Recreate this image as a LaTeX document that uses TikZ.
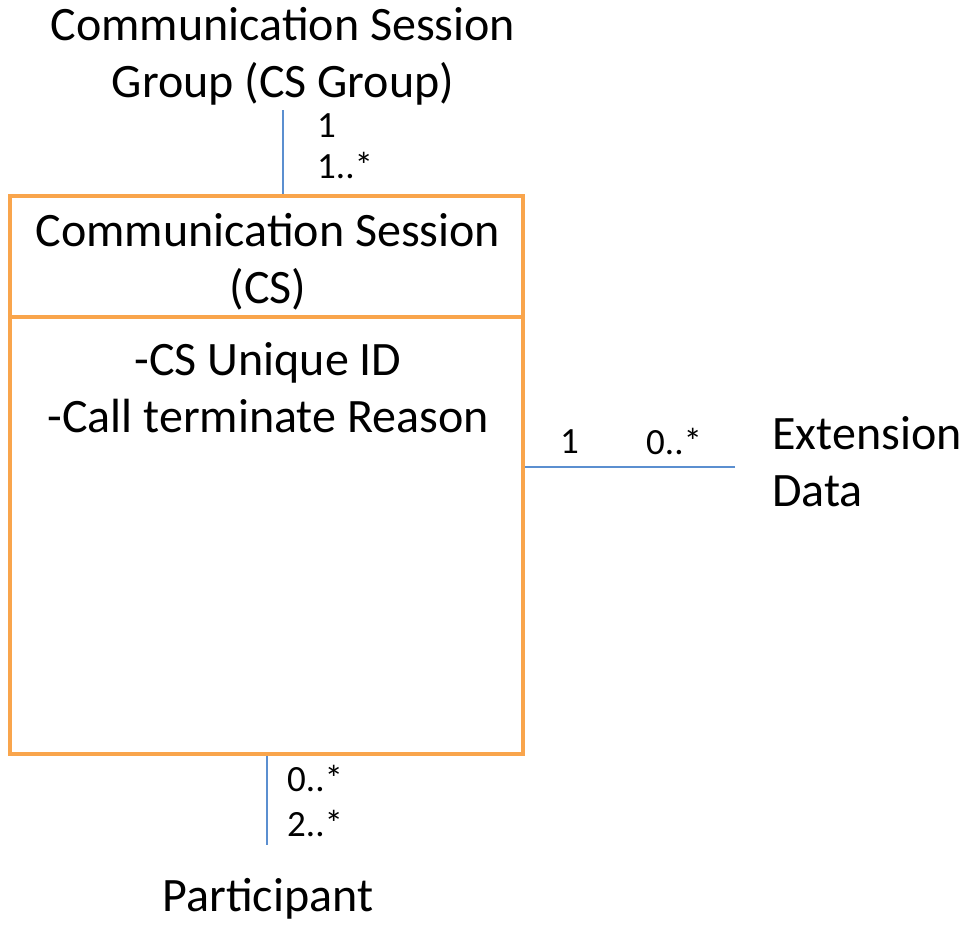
\documentclass[tikz,border=0pt]{standalone}
\usepackage{fontspec}
\setmainfont{Carlito}
\usepackage{xcolor}
\usetikzlibrary{positioning}
\definecolor{boxorange}{HTML}{F9A54C}
\definecolor{linkblue}{HTML}{5B8FD0}
\tikzstyle{classbox} = [draw=boxorange, line width=4pt, rectangle, minimum width=513pt, minimum height=558pt]
\tikzstyle{bigtext} = [inner sep=0pt, align=center, font=\fontsize{48}{57}\selectfont]
\tikzstyle{mult} = [inner sep=0pt, anchor=west, font=\fontsize{37}{40}\selectfont]
\tikzstyle{link} = [draw=linkblue, line width=1.3pt]
\tikzstyle{tick} = [draw=linkblue, line width=2.2pt]

\begin{document}
\begin{tikzpicture}[x=1pt, y=-1pt]
\useasboundingbox (0,0) rectangle (961,924);

% Place nodes
\node [bigtext](group) at (283,56){Communication Session\\Group (CS Group)};
\node [classbox](cs) at (266.5,475){};
\node [bigtext](csname) at (268,262){Communication Session\\(CS)};
\node [bigtext](attrs) at (268,388){-CS Unique ID\\-Call terminate Reason};
\node [bigtext, anchor=west, align=left](ext) at (772,462){Extension\\Data};
\node [bigtext](participant) at (268,899){Participant};

% Multiplicities
\node [mult](gone) at (317,126){1};
\node [mult](gmany) at (317,166){1..*};
\node [mult](eone) at (560,442){1};
\node [mult](emany) at (646,442){0..*};
\node [mult](pzero) at (287,778){0..*};
\node [mult](ptwo) at (287,823){2..*};

% Place lines
\coordinate (divleft) at (cs.west |- 0,317);
\coordinate (divright) at (cs.east |- 0,317);
\draw [draw=boxorange, line width=4pt] (divleft) -- (divright);
\coordinate (extend) at (735,467);
\coordinate (partend) at (267,845);
\draw [link] (group.south) ++(0,5) -- (group.south |- cs.north);
\draw [link] (cs.east |- extend) -- (extend);
\draw [tick] (cs.east |- extend) -- ++(6,0);
\draw [tick] (609,467) -- ++(12,0);
\draw [tick] (extend) -- ++(-8,0);
\draw [link] (partend |- cs.south) -- (partend);

\end{tikzpicture}
\end{document}
